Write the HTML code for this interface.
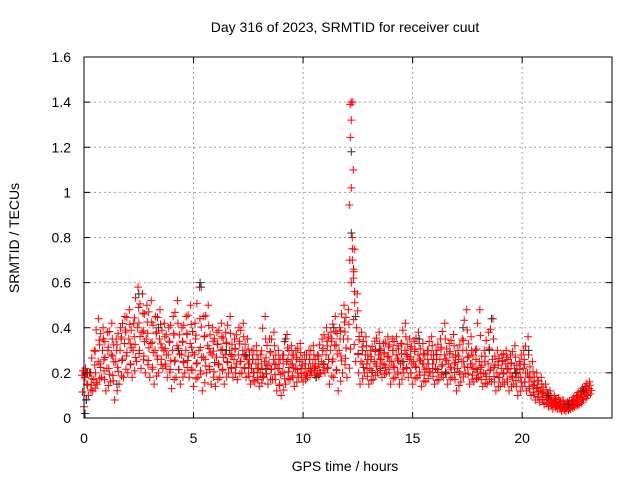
<!DOCTYPE html>
<html><head><meta charset="utf-8">
<style>
html,body{margin:0;padding:0;background:#fff;}
svg{display:block;font-family:"Liberation Sans",sans-serif;}
</style></head>
<body>
<svg id="chart" width="640" height="480" viewBox="0 0 640 480"></svg>
<script>
const times=[0.0,0.2,0.4,0.6,0.8,1.0,1.2,1.4,1.6,1.8,2.0,2.2,2.4,2.6,2.8,3.0,3.2,3.4,3.6,3.8,4.0,4.2,4.4,4.6,4.8,5.0,5.2,5.4,5.6,5.8,6.0,6.2,6.4,6.6,6.8,7.0,7.2,7.4,7.6,7.8,8.0,8.2,8.4,8.6,8.8,9.0,9.2,9.4,9.6,9.8,10.0,10.2,10.4,10.6,10.8,11.0,11.2,11.4,11.6,11.8,12.0,12.2,12.4,12.6,12.8,13.0,13.2,13.4,13.6,13.8,14.0,14.2,14.4,14.6,14.8,15.0,15.2,15.4,15.6,15.8,16.0,16.2,16.4,16.6,16.8,17.0,17.2,17.4,17.6,17.8,18.0,18.2,18.4,18.6,18.8,19.0,19.2,19.4,19.6,19.8,20.0,20.2,20.4,20.6,20.8,21.0,21.2,21.4,21.6,21.8,22.0,22.2,22.4,22.6,22.8,23.0];
const lowVals=[0.05,0.10,0.12,0.15,0.18,0.12,0.16,0.08,0.15,0.18,0.20,0.18,0.25,0.22,0.20,0.18,0.15,0.20,0.22,0.18,0.13,0.18,0.15,0.20,0.18,0.14,0.18,0.12,0.20,0.15,0.14,0.18,0.15,0.20,0.18,0.17,0.20,0.18,0.15,0.16,0.14,0.18,0.15,0.17,0.12,0.10,0.15,0.17,0.14,0.18,0.16,0.18,0.20,0.18,0.20,0.20,0.15,0.18,0.12,0.20,0.18,0.60,0.25,0.15,0.20,0.15,0.17,0.20,0.18,0.20,0.15,0.18,0.15,0.20,0.18,0.15,0.18,0.14,0.16,0.20,0.15,0.17,0.18,0.15,0.18,0.12,0.16,0.20,0.15,0.16,0.18,0.14,0.15,0.16,0.12,0.14,0.15,0.12,0.15,0.10,0.14,0.12,0.10,0.08,0.07,0.06,0.05,0.04,0.04,0.03,0.03,0.04,0.05,0.06,0.08,0.10];
const midVals=[0.18,0.20,0.17,0.25,0.30,0.22,0.28,0.25,0.30,0.33,0.35,0.30,0.40,0.38,0.35,0.33,0.30,0.35,0.30,0.28,0.30,0.32,0.28,0.30,0.33,0.28,0.30,0.27,0.32,0.28,0.27,0.30,0.28,0.30,0.26,0.28,0.30,0.26,0.22,0.24,0.20,0.25,0.24,0.26,0.22,0.20,0.25,0.24,0.22,0.25,0.20,0.22,0.24,0.20,0.25,0.28,0.30,0.32,0.30,0.35,0.35,0.80,0.40,0.25,0.28,0.22,0.25,0.28,0.24,0.27,0.25,0.28,0.24,0.30,0.26,0.25,0.28,0.24,0.22,0.28,0.22,0.26,0.28,0.24,0.27,0.22,0.25,0.30,0.24,0.22,0.25,0.20,0.24,0.26,0.20,0.22,0.24,0.20,0.22,0.18,0.22,0.20,0.16,0.13,0.12,0.10,0.08,0.07,0.06,0.05,0.05,0.06,0.07,0.09,0.11,0.13];
const highVals=[0.22,0.20,0.30,0.44,0.40,0.38,0.42,0.35,0.40,0.45,0.48,0.42,0.58,0.55,0.50,0.52,0.45,0.48,0.42,0.40,0.45,0.52,0.40,0.45,0.50,0.42,0.58,0.45,0.50,0.40,0.38,0.42,0.38,0.45,0.35,0.40,0.42,0.35,0.30,0.32,0.28,0.45,0.35,0.38,0.30,0.28,0.37,0.32,0.30,0.33,0.28,0.30,0.32,0.28,0.35,0.40,0.38,0.45,0.40,0.50,0.48,1.40,0.55,0.38,0.36,0.30,0.34,0.38,0.33,0.36,0.35,0.36,0.33,0.42,0.35,0.34,0.38,0.33,0.30,0.36,0.30,0.35,0.42,0.33,0.37,0.30,0.35,0.48,0.36,0.30,0.48,0.30,0.38,0.44,0.30,0.28,0.30,0.28,0.32,0.25,0.30,0.36,0.25,0.20,0.18,0.15,0.12,0.10,0.09,0.08,0.07,0.08,0.10,0.12,0.14,0.16];
const spikeTimes=[12.15,12.2,12.2,12.2,12.25,12.25,12.3,12.3,12.35];
const spikeVals=[1.39,1.40,1.32,1.02,0.75,0.70,0.62,0.66,0.56];
const blackTimes=[0.05,0.1,0.15,1.5,2.5,3.4,4.3,5.3,5.35,6.5,7.4,8.3,9.2,10.6,11.4,12.2,12.2,12.4,13.5,14.6,15.3,16.5,17.3,18.5,18.6,19.7,20.3,21.2,22.1,22.8];
const blackVals=[0.02,0.08,0.2,0.15,0.55,0.4,0.3,0.6,0.58,0.3,0.28,0.22,0.35,0.18,0.4,1.18,0.82,0.45,0.3,0.25,0.35,0.2,0.4,0.3,0.44,0.2,0.3,0.1,0.06,0.12];
const xTicks=[0,5,10,15,20];
const yTicks=[0,0.2,0.4,0.6,0.8,1,1.2,1.4,1.6];
const yTickLabels=["0","0.2","0.4","0.6","0.8","1","1.2","1.4","1.6"];

const NS="http://www.w3.org/2000/svg";
const svg=document.getElementById('chart');
const L=84,R=612,T=57,B=418;
const xMax=24.1,yMax=1.6;
// fixed style pattern for scatter placement within each time step (pixel offsets)
const fracs=[0,0.12,0.25,0.37,0.5,0.62,0.75,0.87,1];
const pxOff=[0,2.5,-1.5,3.5,1,-2,2,-1,1.5];
function xs(v){return L+v/xMax*(R-L);}
function ys(v){return B-v/yMax*(B-T);}
function mk(tag,attrs){const e=document.createElementNS(NS,tag);for(const k in attrs)e.setAttribute(k,attrs[k]);svg.appendChild(e);return e;}

yTicks.forEach((v,i)=>{
  if(i>0&&i<yTicks.length-1){const g=mk('line',{x1:L,x2:R,y1:ys(v),y2:ys(v),stroke:'#a0a0a0','stroke-dasharray':'2,3','stroke-width':1});
  
  }
  const tk=mk('line',{x1:L,x2:L+6,y1:ys(v),y2:ys(v),stroke:'#000'});
  
  
  const tk2=mk('line',{x1:R,x2:R-6,y1:ys(v),y2:ys(v),stroke:'#000'});
  
  
  const t=mk('text',{x:L-13,y:ys(v)+5,'text-anchor':'end','font-size':14,fill:'#000'});
  t.textContent=yTickLabels[i];
  
  
});
xTicks.forEach(v=>{
  if(v>0){const g=mk('line',{x1:xs(v),x2:xs(v),y1:T,y2:B,stroke:'#a0a0a0','stroke-dasharray':'2,3','stroke-width':1});
  
  }
  const tk=mk('line',{x1:xs(v),x2:xs(v),y1:B,y2:B-6,stroke:'#000'});
  
  
  const tk2=mk('line',{x1:xs(v),x2:xs(v),y1:T,y2:T+6,stroke:'#000'});
  
  
  const t=mk('text',{x:xs(v),y:B+25,'text-anchor':'middle','font-size':14,fill:'#000'});
  t.textContent=String(v);
  
  
});

function plus(x,y,color,name){
  const p=mk('path',{d:`M${x-4},${y}h8M${x},${y-4}v8`,stroke:color,'stroke-width':1,fill:'none'});
  
  
}
times.forEach((t,i)=>{
  const lo=lowVals[i],mi=midVals[i],hi=highVals[i];
  fracs.forEach((f,k)=>{
    const v=f<=0.5?lo+(mi-lo)*f*2:mi+(hi-mi)*(f-0.5)*2;
    plus(xs(t)+pxOff[k],ys(v),'#ff0000','red-point');
  });
});
spikeTimes.forEach((t,i)=>plus(xs(t),ys(spikeVals[i]),'#ff0000','red-spike-point'));
blackTimes.forEach((t,i)=>plus(xs(t),ys(blackVals[i]),'#333','black-point'));

const frame=mk('rect',{x:L,y:T,width:R-L,height:B-T,fill:'none',stroke:'#000','stroke-width':1});



const title=mk('text',{x:345,y:32,'text-anchor':'middle','font-size':14,fill:'#000'});
title.textContent='Day 316 of 2023, SRMTID for receiver cuut';


const xl=mk('text',{x:345,y:471,'text-anchor':'middle','font-size':14,fill:'#000'});
xl.textContent='GPS time / hours';


const yl=mk('text',{x:0,y:0,'text-anchor':'middle','font-size':14,fill:'#000',transform:'translate(19,238) rotate(-90)'});
yl.textContent='SRMTID / TECUs';


</script>
</body></html>
